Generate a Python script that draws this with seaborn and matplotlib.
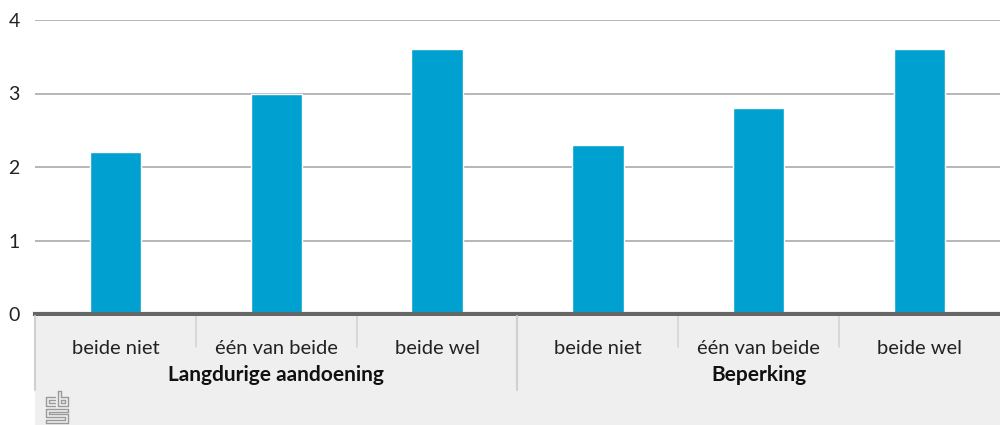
import matplotlib
matplotlib.use("Agg")
import matplotlib.pyplot as plt
import seaborn as sns
import pandas as pd

groups = ["Langdurige aandoening", "Beperking"]
categories = ["beide niet", "één van beide", "beide wel"]
values_langdurig = [2.2, 3.0, 3.6]
values_beperking = [2.3, 2.8, 3.6]
yticks = [0, 1, 2, 3, 4]

rows = []
for g, vals in zip(groups, [values_langdurig, values_beperking]):
    for c, v in zip(categories, vals):
        rows.append({"key": f"{g}|{c}", "group": g, "cat": c, "value": v})
df = pd.DataFrame(rows)
order = list(df["key"])

sns.set_theme(style="white")
plt.rcParams["font.family"] = ["Lato", "DejaVu Sans"]

W, H = 1000, 425
fig = plt.figure(figsize=(W / 100, H / 100), dpi=100)
fig.patch.set_facecolor("white")

left, right = 35, 1000
y0, y4 = 314, 20
ax = fig.add_axes([left / W, (H - y0) / H, (right - left) / W, (y0 - y4) / H])
sns.barplot(data=df, x="key", y="value", order=order, color="#00a1d1",
            saturation=1, width=0.32, ax=ax, zorder=3)
ax.set_xlim(-0.5, len(order) - 0.5)
ax.set_ylim(0, 4)
ax.set_yticks(yticks)
ax.set_yticklabels([str(t) for t in yticks], fontsize=14, color="#222222")
ax.tick_params(axis="y", length=0, pad=11)
ax.set_xticks([])
ax.set_xlabel("")
ax.set_ylabel("")
for s in ["top", "right", "left"]:
    ax.spines[s].set_visible(False)
ax.spines["bottom"].set_color("#666666")
ax.spines["bottom"].set_linewidth(3)
ax.spines["bottom"].set_zorder(5)
ax.grid(axis="y", color="#aaaaaa", linewidth=1.2, zorder=0)
ax.set_axisbelow(True)

# lower category panel
bottom_top = 316
pw = right - left
ax2 = fig.add_axes([left / W, 0, pw / W, (H - bottom_top) / H])
ax2.set_facecolor("#efefef")
ax2.set_xlim(-0.5, len(order) - 0.5)
ax2.set_ylim(H - bottom_top, 0)  # pixel coords from top of panel
ax2.set_xticks([])
ax2.set_yticks([])
for s in ax2.spines.values():
    s.set_visible(False)

n = len(categories)
for i in range(len(order)):
    xb = i - 0.5
    if i % n == 0:
        ax2.plot([xb, xb], [0, 74], color="#d0d0d0", lw=1.5, clip_on=False)
    else:
        ax2.plot([xb, xb], [0, 31], color="#d4d4d4", lw=1.2)
for i, row in df.iterrows():
    ax2.text(i, 33, row["cat"], ha="center", va="center", fontsize=14.5,
             color="#222222")
for gi, g in enumerate(groups):
    ax2.text(gi * n + (n - 1) / 2, 59, g, ha="center", va="center",
             fontsize=15, fontweight="bold", color="#111111")

# small cbs-like mark (pixel coords within panel)
lc = "#9a9a9a"
ox, oy = 10, 75
mk = [
    # c
    ([10, 1], [6, 6]), ([1, 1], [6, 15]), ([1, 10], [15, 15]),
    ([10, 4], [9, 9]), ([4, 4], [9, 12]), ([4, 10], [12, 12]),
    # b
    ([13, 13], [0, 15]), ([13, 23], [15, 15]), ([23, 23], [15, 6]), ([23, 16], [6, 6]),
    ([16, 16], [6, 0]), ([16, 13], [0, 0]),
    ([16, 20], [9, 9]), ([20, 20], [9, 12]), ([20, 16], [12, 12]), ([16, 16], [12, 9]),
    # S
    ([1, 23], [18, 18]), ([1, 1], [18, 26]), ([1, 20], [26, 26]),
    ([4, 23], [21, 21]), ([4, 4], [21, 23]), ([4, 23], [23, 23]), ([23, 23], [21, 18]),
    ([23, 23], [23, 32]), ([23, 1], [32, 32]), ([1, 1], [32, 29]), ([1, 20], [29, 29]),
    ([20, 20], [29, 26]),
]
for xs, ys in mk:
    xd = [-0.5 + ((x + ox) / pw) * len(order) for x in xs]
    yd = [y + oy for y in ys]
    ax2.plot(xd, yd, color=lc, lw=1.0)

fig.savefig("out.png", dpi=100, facecolor=fig.get_facecolor())
